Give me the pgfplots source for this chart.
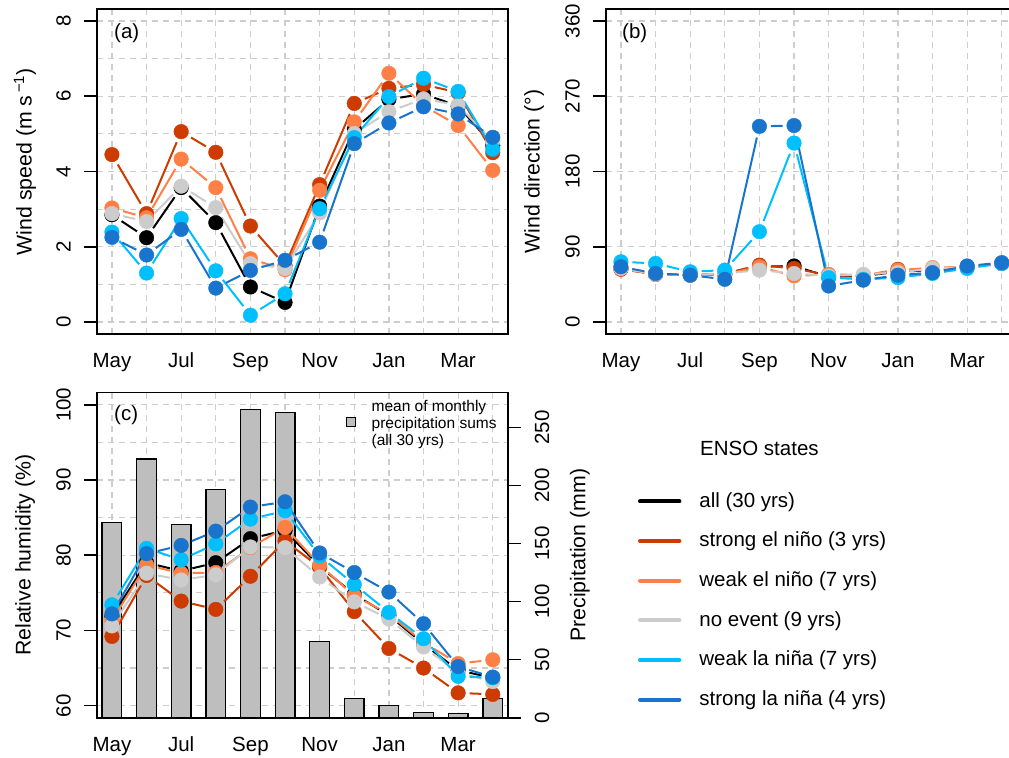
\documentclass[border=0pt]{standalone}
\usepackage{fontspec}
\setmainfont{Liberation Sans}
\usepackage{pgfplots}
\usepackage{pgfplotstable}
\pgfplotsset{compat=1.18}
\usetikzlibrary{decorations.pathreplacing}

\definecolor{ensoall}{RGB}{0,0,0}
\definecolor{sen}{RGB}{205,59,0}
\definecolor{wen}{RGB}{255,128,70}
\definecolor{nev}{RGB}{204,204,204}
\definecolor{wln}{RGB}{0,191,255}
\definecolor{sln}{RGB}{24,116,205}
\definecolor{gridc}{RGB}{205,205,205}
\definecolor{barc}{RGB}{190,190,190}

% monthly means, May (0) to April (11)
\pgfplotstableread{
m all sen wen nev wln sln
0 2.85 4.45 3.03 2.88 2.39 2.25
1 2.24 2.88 2.77 2.67 1.30 1.78
2 3.57 5.06 4.33 3.61 2.75 2.46
3 2.64 4.51 3.57 3.04 1.36 0.90
4 0.93 2.55 1.68 1.55 0.18 1.37
5 0.52 1.50 1.39 1.42 0.75 1.64
6 3.08 3.65 3.50 2.90 3.01 2.12
7 5.12 5.81 5.32 5.01 4.90 4.74
8 5.92 6.21 6.61 5.59 5.99 5.29
9 6.06 6.31 5.75 5.93 6.48 5.72
10 5.74 6.10 5.22 5.76 6.13 5.53
11 4.70 4.50 4.03 4.80 4.59 4.91
}\speed

\pgfplotstableread{
m all sen wen nev wln sln
0 64 63 65 64 72 66
1 57 57 58 57 70 58
2 56 56 56 56 60 56
3 57 58 57 58 62 51
4 66 68 66 62 108 234
5 67 64 55 58 214 235
6 54 56 57 55 53 43
7 55 55 56 57 51 50
8 60 63 62 59 53 56
9 62 61 65 64 58 59
10 66 66 66 66 64 67
11 70 70 70 70 70 71
}\direction

\pgfplotstableread{
m all sen wen nev wln sln
0 71.9 69.2 71.3 70.6 73.4 72.2
1 79.0 77.3 78.7 77.6 80.9 80.2
2 77.9 73.9 77.6 76.7 79.4 81.3
3 79.0 72.8 77.7 77.4 81.5 83.2
4 82.2 77.2 81.0 81.1 84.8 86.4
5 83.3 81.9 83.7 81.0 85.9 87.1
6 78.5 78.4 78.7 77.1 79.9 80.3
7 74.8 72.5 74.6 73.8 76.1 77.7
8 72.0 67.6 72.2 71.5 72.4 75.1
9 68.2 65.0 68.4 67.8 68.9 70.9
10 64.7 61.7 65.6 64.4 63.9 65.2
11 63.7 61.5 66.1 63.2 63.7 63.8
}\humidity

\pgfplotstableread{
m prec
0 168.0
1 223.0
2 166.6
3 196.5
4 265.8
5 263.0
6 65.5
7 16.6
8 10.3
9 4.6
10 3.4
11 16.6
}\precip

% line segments that stop short of the points (type "b" look)
\tikzset{gapline/.style={decorate, decoration={show path construction,
  lineto code={\draw[#1, line width=2bp, shorten <=11.5bp, shorten >=11.5bp]
    (\tikzinputsegmentfirst) -- (\tikzinputsegmentlast);}}}}

\newcommand{\series}[3]{%
  \addplot[gapline=#3] table[x=m, y=#2] {#1};
  \addplot[only marks, mark=*, mark size=7.3bp, color=#3,
    mark options={draw=#3, fill=#3}] table[x=m, y=#2] {#1};
}
\newcommand{\allseries}[1]{%
  \series{#1}{all}{ensoall}
  \series{#1}{sen}{sen}
  \series{#1}{wen}{wen}
  \series{#1}{nev}{nev}
  \series{#1}{wln}{wln}
  \series{#1}{sln}{sln}
}

\newcommand{\labfont}{\fontsize{21.3bp}{25bp}\selectfont}

\pgfplotsset{
  panel/.style={
    scale only axis, width=411.3bp, height=325bp,
    anchor=south west,
    xmin=-0.44, xmax=11.44,
    xtick={0,...,11}, xticklabels={May,,Jul,,Sep,,Nov,,Jan,,Mar,},
    xmajorgrids, ymajorgrids, yminorgrids,
    grid style={gridc, dash pattern=on 6bp off 5bp, line width=1.2bp},
    minor grid style={gridc, dash pattern=on 6bp off 5bp, line width=1.2bp},
    minor tick length=0pt, major tick length=13bp, tick align=outside,
    tick style={black, line width=1.6bp},
    xtick style={draw=none},
    ytick pos=left,
    axis line style={line width=1.6bp},
    /pgf/number format/assume math mode=true,
    xticklabel style={anchor=base, yshift=-20.7bp},
    yticklabel style={xshift=-13bp, rotate=90, anchor=base},
    every axis y label/.style={at={(axis description cs:-0.1743,0.5)}, rotate=90,
      anchor=center, font=\labfont},
  },
}

\begin{document}
\fontsize{20.5bp}{24.6bp}\selectfont
\begin{tikzpicture}
\useasboundingbox (0,0) rectangle (1009bp,758bp);

% (a) wind speed
\begin{axis}[panel, at={(96.7bp,424bp)},
  ymin=-0.32, ymax=8.32, ytick={0,2,...,8}, minor ytick={1,3,5,7},
  ylabel={Wind speed (m s\textsuperscript{\,−1})},
  every axis y label/.append style={at={(axis description cs:-0.1743,0.53)}}]
  \allseries{\speed}
  \node[anchor=west, inner sep=0pt] at (axis description cs:0.042,0.9246) {(a)};
\end{axis}

% (b) wind direction
\begin{axis}[panel, at={(605.7bp,424bp)},
  ymin=-14.4, ymax=374.4, ytick={0,90,180,270,360},
  ylabel={Wind direction (°)}]
  \allseries{\direction}
  \node[anchor=west, inner sep=0pt] at (axis description cs:0.0396,0.9246) {(b)};
\end{axis}

% (c) frame, grid and the ENSO legend
\begin{axis}[panel, at={(96.7bp,40.3bp)}, clip=false,
  ymin=58.4, ymax=101.6, ytick={60,70,...,100}, minor ytick={65,75,85,95},
  ylabel={Relative humidity (\%)},
  legend cell align=left,
  legend style={at={(axis description cs:1.3161,0.3606)}, anchor=west,
    draw=none, fill=none, inner sep=0pt, outer sep=0pt,
    row sep=21.7bp, column sep=18bp,
    nodes={inner sep=0pt, font=\fontsize{20.5bp}{24.6bp}\selectfont}},
  legend image code/.code={\draw[line width=4bp, line cap=round, #1] (2bp,0bp) -- (41.4bp,0bp);}]
  \addlegendimage{ensoall}\addlegendentry{all (30 yrs)}
  \addlegendimage{sen}\addlegendentry{strong el niño (3 yrs)}
  \addlegendimage{wen}\addlegendentry{weak el niño (7 yrs)}
  \addlegendimage{nev}\addlegendentry{no event (9 yrs)}
  \addlegendimage{wln}\addlegendentry{weak la niña (7 yrs)}
  \addlegendimage{sln}\addlegendentry{strong la niña (4 yrs)}
  \node[anchor=base west, inner sep=0pt] at (axis description cs:1.4668,0.8083) {ENSO states};
\end{axis}

% (c) precipitation bars on the right axis
\begin{axis}[scale only axis, width=411.3bp, height=325bp, anchor=south west,
  at={(96.7bp,40.3bp)},
  xmin=-0.44, xmax=11.44, ymin=0, ymax=280,
  axis x line=none, axis y line*=right,
  ytick={0,50,...,250},
  major tick length=13bp, tick align=outside,
  tick style={black, line width=1.6bp},
  axis line style={line width=1.6bp},
  /pgf/number format/assume math mode=true,
  yticklabel style={xshift=28bp, rotate=90, anchor=base},
  ylabel={Precipitation (mm)},
  every axis y label/.style={at={(axis description cs:1.175,0.5)}, rotate=90,
    anchor=center, font=\labfont},
  legend style={at={(axis description cs:0.607,0.98)}, anchor=north west,
    draw=none, fill=none, inner sep=0pt, outer sep=0pt, column sep=16bp,
    nodes={inner sep=0pt}},
  legend image code/.code={\draw[fill=barc, draw=black, line width=1bp] (-4.15bp,-10.65bp) rectangle (4.15bp,-2.35bp);}]
  \addplot[ybar, bar width=19.7bp, fill=barc, draw=black, line width=1.3bp] table[x=m, y=prec] {\precip};
  \addlegendentry{\fontsize{15.5bp}{17.3bp}\selectfont\begin{tabular}[c]{@{}l@{}}mean of monthly\\precipitation sums\\(all 30 yrs)\end{tabular}}
\end{axis}

% (c) relative humidity lines
\begin{axis}[scale only axis, width=411.3bp, height=325bp, anchor=south west,
  at={(96.7bp,40.3bp)}, hide axis,
  xmin=-0.44, xmax=11.44, ymin=58.4, ymax=101.6]
  \allseries{\humidity}
  \node[anchor=west, inner sep=0pt] at (axis description cs:0.042,0.9314) {(c)};
\end{axis}
\end{tikzpicture}
\end{document}
